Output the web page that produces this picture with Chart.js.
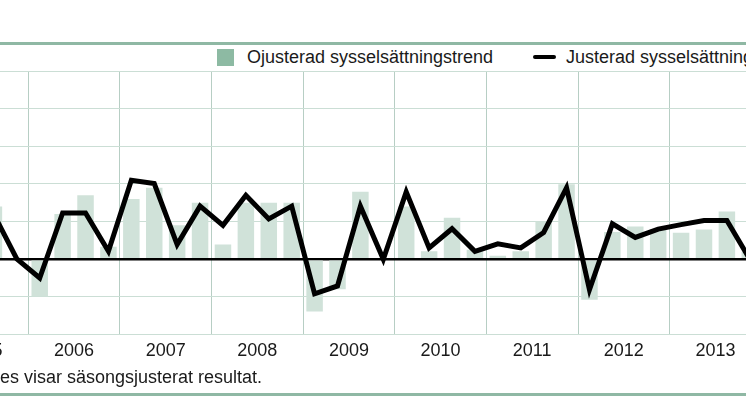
<!DOCTYPE html>
<html>

<head>
    <meta charset="utf-8">
    <title>Sysselsättningstrend</title>
    <style>
        body {
            margin: 0;
            width: 746px;
            height: 419px;
            overflow: hidden;
            position: relative;
            background: #fff;
            font-family: "Liberation Sans", Arial, sans-serif;
            color: #1a1a1a;
        }

        .rule {
            position: absolute;
            left: 0;
            width: 746px;
            height: 3px;
            background: #8fb8a4;
        }

        .txt {
            position: absolute;
            font-size: 18px;
            line-height: 18px;
            white-space: nowrap;
        }

        #chart {
            position: absolute;
            left: -70px;
            top: 0;
        }
    </style>
    <script src="https://cdn.jsdelivr.net/npm/chart.js"></script>
</head>

<body>
    <div class="rule" style="top:42px"></div>
    <div style="position:absolute;left:217px;top:49px;width:17px;height:17px;background:#8dbaa3"></div>
    <div class="txt" style="left:247px;top:48px">Ojusterad sysselsättningstrend</div>
    <div style="position:absolute;left:533px;top:54.5px;width:23px;height:4.5px;background:#000;border-radius:2px"></div>
    <div class="txt" style="left:566px;top:48px">Justerad sysselsättningstrend</div>

    <canvas id="chart" width="886" height="419"></canvas>

    <div class="txt" style="left:0;top:368px">es visar säsongsjusterat resultat.</div>
    <div class="rule" style="top:392.5px"></div>

    <script>
        // quarters shown in the picture (the chart is cropped at both sides)
        var quarters = [
            '2005 Q3', '2005 Q4',
            '2006 Q1', '2006 Q2', '2006 Q3', '2006 Q4',
            '2007 Q1', '2007 Q2', '2007 Q3', '2007 Q4',
            '2008 Q1', '2008 Q2', '2008 Q3', '2008 Q4',
            '2009 Q1', '2009 Q2', '2009 Q3', '2009 Q4',
            '2010 Q1', '2010 Q2', '2010 Q3', '2010 Q4',
            '2011 Q1', '2011 Q2', '2011 Q3', '2011 Q4',
            '2012 Q1', '2012 Q2', '2012 Q3', '2012 Q4',
            '2013 Q1', '2013 Q2', '2013 Q3', '2013 Q4'
        ];

        // bars
        var unadjusted = [
            1.4, 0,
            -0.99, 1.2, 1.7, 0.33,
            1.6, 1.9, 0.9, 1.5,
            0.39, 1.5, 1.5, 1.5,
            -1.39, -0.8, 1.79, 0,
            1.4, 0.21, 1.1, 0.25,
            0.09, 0.21, 1.0, 1.99,
            -1.08, 0.72, 0.87, 0.8,
            0.7, 0.79, 1.27, 0.2
        ];

        // black line
        var adjusted = [
            1.19, 0.01,
            -0.5, 1.23, 1.23, 0.21,
            2.1, 2.01, 0.39, 1.41,
            0.9, 1.7, 1.07, 1.41,
            -0.92, -0.71, 1.41, 0,
            1.79, 0.3, 0.81, 0.21,
            0.41, 0.3, 0.71, 1.9,
            -0.81, 0.94, 0.58, 0.8,
            0.92, 1.03, 1.03, 0
        ];

        var years = ['2005', '2006', '2007', '2008', '2009', '2010', '2011', '2012', '2013', '2014'];

        // quarter index, 2006 Q1 = 0
        function pos(q) {
            var parts = q.split(' Q');
            return (parseInt(parts[0]) - 2006) * 4 + parseInt(parts[1]) - 1;
        }
        function yearCenter(y) {
            return (parseInt(y) - 2006) * 4 + 1.5;
        }

        var barData = quarters.map(function (q, i) { return { x: pos(q), y: unadjusted[i] }; });
        var lineData = quarters.map(function (q, i) { return { x: pos(q), y: adjusted[i] }; });

        // tick list: year boundaries (grid) and year centres (labels)
        var xTicks = [];
        years.forEach(function (y) {
            xTicks.push({ value: yearCenter(y) - 2 });
            xTicks.push({ value: yearCenter(y) });
        });

        Chart.defaults.font.family = '"Liberation Sans", Arial, sans-serif';
        Chart.defaults.color = '#1a1a1a';

        new Chart(document.getElementById('chart'), {
            data: {
                datasets: [{
                    type: 'line',
                    label: 'Justerad sysselsättningstrend',
                    data: lineData,
                    borderColor: '#000',
                    borderWidth: 5,
                    borderJoinStyle: 'miter',
                    pointRadius: 0,
                    tension: 0,
                    order: 0
                }, {
                    type: 'bar',
                    label: 'Ojusterad sysselsättningstrend',
                    data: barData,
                    backgroundColor: '#d0e2d9',
                    categoryPercentage: 1,
                    barPercentage: 0.72,
                    order: 1
                }]
            },
            options: {
                responsive: false,
                animation: false,
                layout: {
                    padding: { top: 71, bottom: 55, left: 0, right: 0 }
                },
                plugins: {
                    legend: { display: false },
                    tooltip: { enabled: false }
                },
                scales: {
                    x: {
                        type: 'linear',
                        min: -4.79,
                        max: 33.89,
                        offset: false,
                        afterBuildTicks: function (scale) {
                            scale.ticks = xTicks.filter(function (t) {
                                return t.value >= scale.min && t.value <= scale.max;
                            });
                        },
                        afterFit: function (scale) {
                            scale.paddingLeft = 0;
                            scale.paddingRight = 0;
                            scale.height = 29.5;
                        },
                        grid: {
                            offset: false,
                            drawTicks: false,
                            color: function (ctx) {
                                var v = ctx.tick ? ctx.tick.value : 0;
                                return ((v + 0.5) % 4 === 0) ? '#b7cec4' : 'rgba(0,0,0,0)';
                            }
                        },
                        border: { display: false },
                        ticks: {
                            autoSkip: false,
                            maxRotation: 0,
                            padding: 6,
                            font: { size: 18 },
                            callback: function (v) {
                                var k = (v - 1.5) / 4;
                                return (k === Math.round(k)) ? String(2006 + k) : '';
                            }
                        }
                    },
                    y: {
                        min: -2,
                        max: 5,
                        afterFit: function (scale) {
                            scale.width = 0;
                        },
                        ticks: { display: false, stepSize: 1 },
                        border: { display: false },
                        grid: {
                            drawTicks: false,
                            color: function (ctx) {
                                return ctx.tick && ctx.tick.value === 0 ? '#000' : '#cbded5';
                            },
                            lineWidth: function (ctx) {
                                return ctx.tick && ctx.tick.value === 0 ? 2.5 : 1;
                            }
                        }
                    }
                }
            }
        });
    </script>
</body>

</html>
